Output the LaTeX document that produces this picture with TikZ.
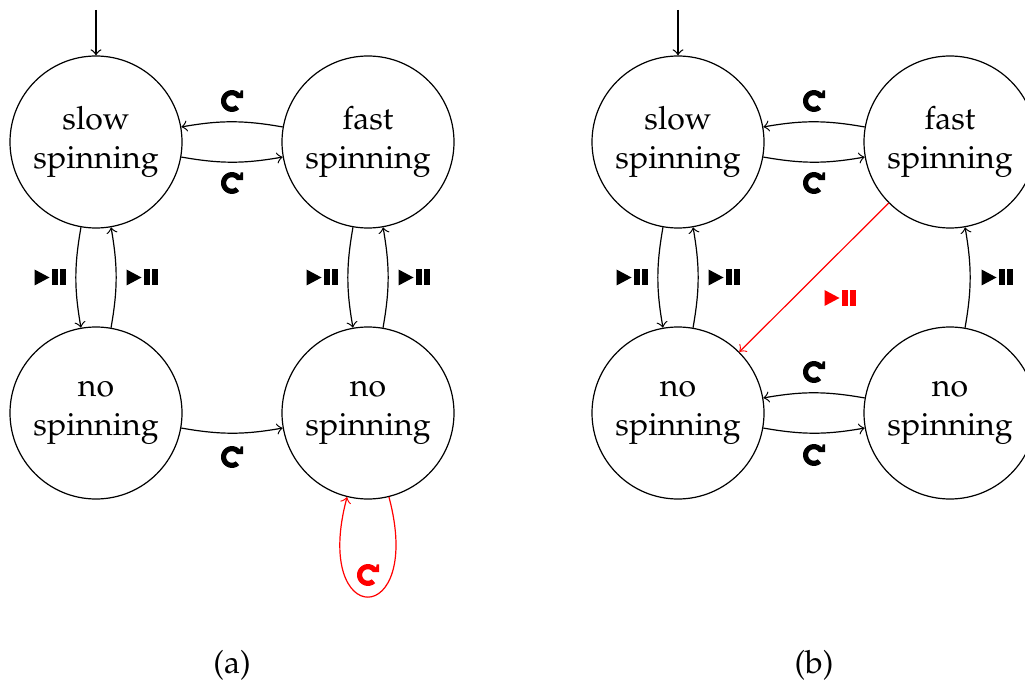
\documentclass[tikz,border=0pt]{standalone}
\usepackage[T1]{fontenc}
\renewcommand{\rmdefault}{ppl}
\usetikzlibrary{calc,arrows.meta}
\newcommand\redoglyph[2]{%
  \begin{scope}[shift={(#1)}, scale=0.044]
    \fill[#2, shift={(-2,0)}]
      plot[domain=42:312, samples=50] ({248*cos(\x)},{248*sin(\x)})
      -- (87,-97)
      -- plot[domain=-48:-330.5, samples=50] ({130*cos(\x)},{130*sin(\x)})
      -- (252,64) -- (252,240) -- (200,240) -- cycle;
  \end{scope}}
\newcommand\ppglyph[2]{%
  \begin{scope}[shift={(#1)}]
    \fill[#2] (-15.5,-8) -- (-15.5,8) -- (-0.5,0) -- cycle;
    \fill[#2] (1.5,-8) rectangle (7.5,8);
    \fill[#2] (9.5,-8) rectangle (15.5,8);
  \end{scope}}
\tikzset{
  state/.style={draw, circle, minimum size=172pt, inner sep=0pt, align=center,
    font=\fontsize{32}{39}\selectfont},
  lbl/.style={inner sep=0pt, minimum width=32pt, minimum height=24pt},
  caption/.style={font=\fontsize{32}{38}\selectfont},
  arr/.style={-{Classical TikZ Rightarrow[length=6pt,width=11pt]}},
}
\begin{document}
\begin{tikzpicture}[x=1pt, y=1pt, line width=1.2pt]
\path[use as bounding box, clip] (0,0) rectangle (1025,-684);
% ---------- (a)
\node[state] (sA) at (96,-142) {slow\\spinning};
\node[state] (fA) at (368,-142) {fast\\spinning};
\node[state] (nA) at (96,-413) {no\\spinning};
\node[state] (mA) at (368,-413) {no\\spinning};
\coordinate (iA) at (96,-10);
\draw[arr] (iA) -- (sA);
\draw[arr] (fA) to[bend right=10] (sA);
\draw[arr] (sA) to[bend right=10] (fA);
\draw[arr] (sA) to[bend right=10] (nA);
\draw[arr] (nA) to[bend right=10] (sA);
\draw[arr] (fA) to[bend right=10] (mA);
\draw[arr] (mA) to[bend right=10] (fA);
\draw[arr] (nA) to[bend right=10] (mA);
\draw[arr, red] (mA.-76) .. controls +(-75:138) and +(-105:138) .. (mA.-104);
\node[lbl] (lA1) at ($(sA)!0.5!(fA)+(0,41)$) {};
\node[lbl] (lA2) at ($(sA)!0.5!(fA)+(0,-41)$) {};
\node[lbl] (lA3) at ($(sA)!0.5!(nA)+(-46,0)$) {};
\node[lbl] (lA4) at ($(sA)!0.5!(nA)+(46,0)$) {};
\node[lbl] (lA5) at ($(fA)!0.5!(mA)+(-46,0)$) {};
\node[lbl] (lA6) at ($(fA)!0.5!(mA)+(46,0)$) {};
\node[lbl] (lA7) at ($(nA)!0.5!(mA)+(0,-44)$) {};
\node[lbl] (lA8) at ($(mA)+(0,-162)$) {};
\redoglyph{lA1}{black}
\redoglyph{lA2}{black}
\ppglyph{lA3}{black}
\ppglyph{lA4}{black}
\ppglyph{lA5}{black}
\ppglyph{lA6}{black}
\redoglyph{lA7}{black}
\redoglyph{lA8}{red}
\node[caption] (capA) at ($(sA)!0.5!(fA)+(0,-523)$) {(a)};
% ---------- (b)
\node[state] (sB) at (678,-142) {slow\\spinning};
\node[state] (fB) at (950,-142) {fast\\spinning};
\node[state] (nB) at (678,-413) {no\\spinning};
\node[state] (mB) at (950,-413) {no\\spinning};
\coordinate (iB) at (678,-10);
\draw[arr] (iB) -- (sB);
\draw[arr] (fB) to[bend right=10] (sB);
\draw[arr] (sB) to[bend right=10] (fB);
\draw[arr] (sB) to[bend right=10] (nB);
\draw[arr] (nB) to[bend right=10] (sB);
\draw[arr] (mB) to[bend right=10] (fB);
\draw[arr] (mB) to[bend right=10] (nB);
\draw[arr] (nB) to[bend right=10] (mB);
\draw[arr, red] (fB) -- (nB);
\node[lbl] (lB1) at ($(sB)!0.5!(fB)+(0,41)$) {};
\node[lbl] (lB2) at ($(sB)!0.5!(fB)+(0,-41)$) {};
\node[lbl] (lB3) at ($(sB)!0.5!(nB)+(-46,0)$) {};
\node[lbl] (lB4) at ($(sB)!0.5!(nB)+(46,0)$) {};
\node[lbl] (lB5) at ($(fB)!0.5!(mB)+(47,0)$) {};
\node[lbl] (lB6) at ($(nB)!0.5!(mB)+(0,41)$) {};
\node[lbl] (lB7) at ($(nB)!0.5!(mB)+(0,-42)$) {};
\node[lbl] (lB8) at ($(fB)!0.5!(nB)+(26,-20.5)$) {};
\redoglyph{lB1}{black}
\redoglyph{lB2}{black}
\ppglyph{lB3}{black}
\ppglyph{lB4}{black}
\ppglyph{lB5}{black}
\redoglyph{lB6}{black}
\redoglyph{lB7}{black}
\ppglyph{lB8}{red}
\node[caption] (capB) at ($(sB)!0.5!(fB)+(0,-523)$) {(b)};
\end{tikzpicture}
\end{document}
